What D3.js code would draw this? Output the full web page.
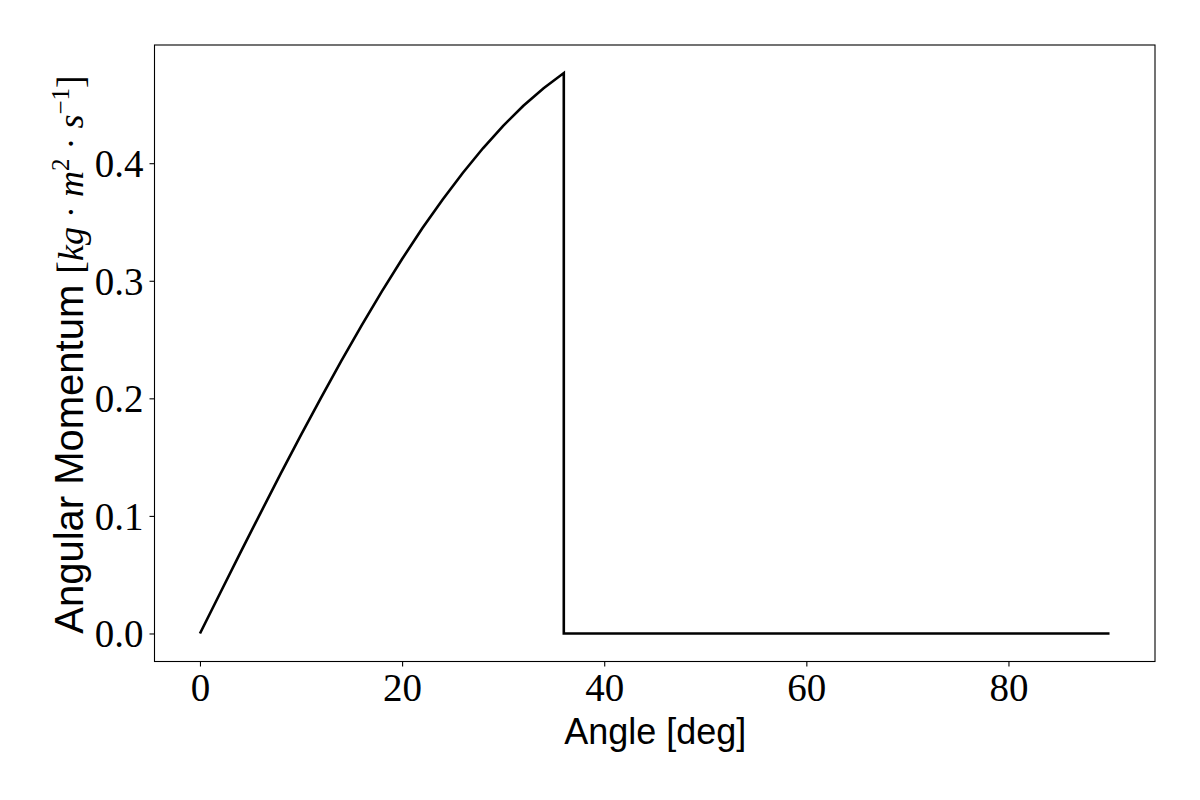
<!DOCTYPE html>
<html>
<head>
<meta charset="utf-8">
<script src="https://cdn.jsdelivr.net/npm/d3@7"></script>
<style>
  html, body { margin: 0; padding: 0; background: #fff; }
  svg { display: block; }
  .tick text { font-family: "Liberation Serif", "DejaVu Serif", serif; }
</style>
</head>
<body>
<svg id="chart" width="1200" height="800"></svg>
<script>
// Angle (deg) and angular momentum (kg·m²·s⁻¹)
const angles = [0, 2, 4, 6, 8, 10, 12, 14, 16, 18, 20, 22, 24, 26, 28, 30, 32, 34, 36, 36, 90];
const momentum = [0, 0.0344, 0.0687, 0.1026, 0.1361, 0.1689, 0.2009, 0.2320, 0.2621, 0.2910,
                  0.3185, 0.3446, 0.3690, 0.3917, 0.4127, 0.4318, 0.4489, 0.4638, 0.4767, 0, 0];
const xTicks = [0, 20, 40, 60, 80];
const yTicks = [0.0, 0.1, 0.2, 0.3, 0.4];
const xLabel = "Angle [deg]";

const W = 1200, H = 800;
const m = { left: 154.5, right: 1155, top: 45, bottom: 661.5 };

const svg = d3.select("#chart");
svg.append("rect").attr("width", W).attr("height", H).attr("fill", "#fff");

const data = angles.map((a, i) => ({ a, v: momentum[i] }));

const xExt = d3.extent(angles), yExt = d3.extent(momentum);
const xPad = (xExt[1] - xExt[0]) * 0.05, yPad = (yExt[1] - yExt[0]) * 0.05;

const x = d3.scaleLinear().domain([xExt[0] - xPad, xExt[1] + xPad]).range([m.left, m.right]);
const y = d3.scaleLinear().domain([yExt[0] - yPad, yExt[1] + yPad]).range([m.bottom, m.top]);

// line
const line = d3.line().x(d => x(d.a)).y(d => y(d.v));
svg.append("path")
  .datum(data)
  .attr("d", line)
  .attr("fill", "none")
  .attr("stroke", "#000")
  .attr("stroke-width", 2.6)
  .attr("stroke-linejoin", "miter");

// axes
const xAxis = d3.axisBottom(x).tickValues(xTicks).tickFormat(d3.format("d")).tickSize(5).tickPadding(7);
const yAxis = d3.axisLeft(y).tickValues(yTicks).tickFormat(d3.format(".1f")).tickSize(5).tickPadding(6);

const gx = svg.append("g").attr("transform", `translate(0,${m.bottom})`).call(xAxis);
const gy = svg.append("g").attr("transform", `translate(${m.left},0)`).call(yAxis);
[gx, gy].forEach(g => {
  g.select(".domain").remove();
  g.selectAll(".tick line").attr("stroke", "#000").attr("stroke-width", 1.1);
  g.selectAll(".tick text").attr("fill", "#000").attr("font-size", 39);
});
gy.selectAll(".tick text").attr("dy", "0.34em");

// frame
svg.append("rect")
  .attr("x", m.left).attr("y", m.top)
  .attr("width", m.right - m.left).attr("height", m.bottom - m.top)
  .attr("fill", "none").attr("stroke", "#000").attr("stroke-width", 1.1);

// x label
svg.append("text")
  .attr("x", (m.left + m.right) / 2 + 0.5)
  .attr("y", 744)
  .attr("text-anchor", "middle")
  .attr("font-family", "Liberation Sans, Arial, sans-serif")
  .attr("font-size", 36)
  .attr("fill", "#000")
  .text(xLabel);

// y label
const yl = svg.append("text")
  .attr("transform", `translate(83,354.5) rotate(-90)`)
  .attr("text-anchor", "middle")
  .attr("font-size", 36)
  .attr("fill", "#000");
const serif = "Liberation Serif, DejaVu Serif, serif";
const sans = "Liberation Sans, Arial, sans-serif";
yl.append("tspan").attr("font-family", sans).attr("font-size", 40).text("Angular Momentum ");
yl.append("tspan").attr("font-family", serif).attr("font-size", 38).text("[");
yl.append("tspan").attr("font-family", serif).attr("font-style", "italic").text("kg");
yl.append("tspan").attr("font-family", serif).text(" · ");
yl.append("tspan").attr("font-family", serif).attr("font-style", "italic").text("m");
yl.append("tspan").attr("font-family", serif).attr("font-size", 25).attr("dy", -14).text("2");
yl.append("tspan").attr("font-family", serif).attr("dy", 14).text(" · ");
yl.append("tspan").attr("font-family", serif).attr("font-style", "italic").text("s");
yl.append("tspan").attr("font-family", serif).attr("font-size", 25).attr("dy", -14).text("−1");
yl.append("tspan").attr("font-family", serif).attr("font-size", 38).attr("dy", 14).text("]");
</script>
</body>
</html>
